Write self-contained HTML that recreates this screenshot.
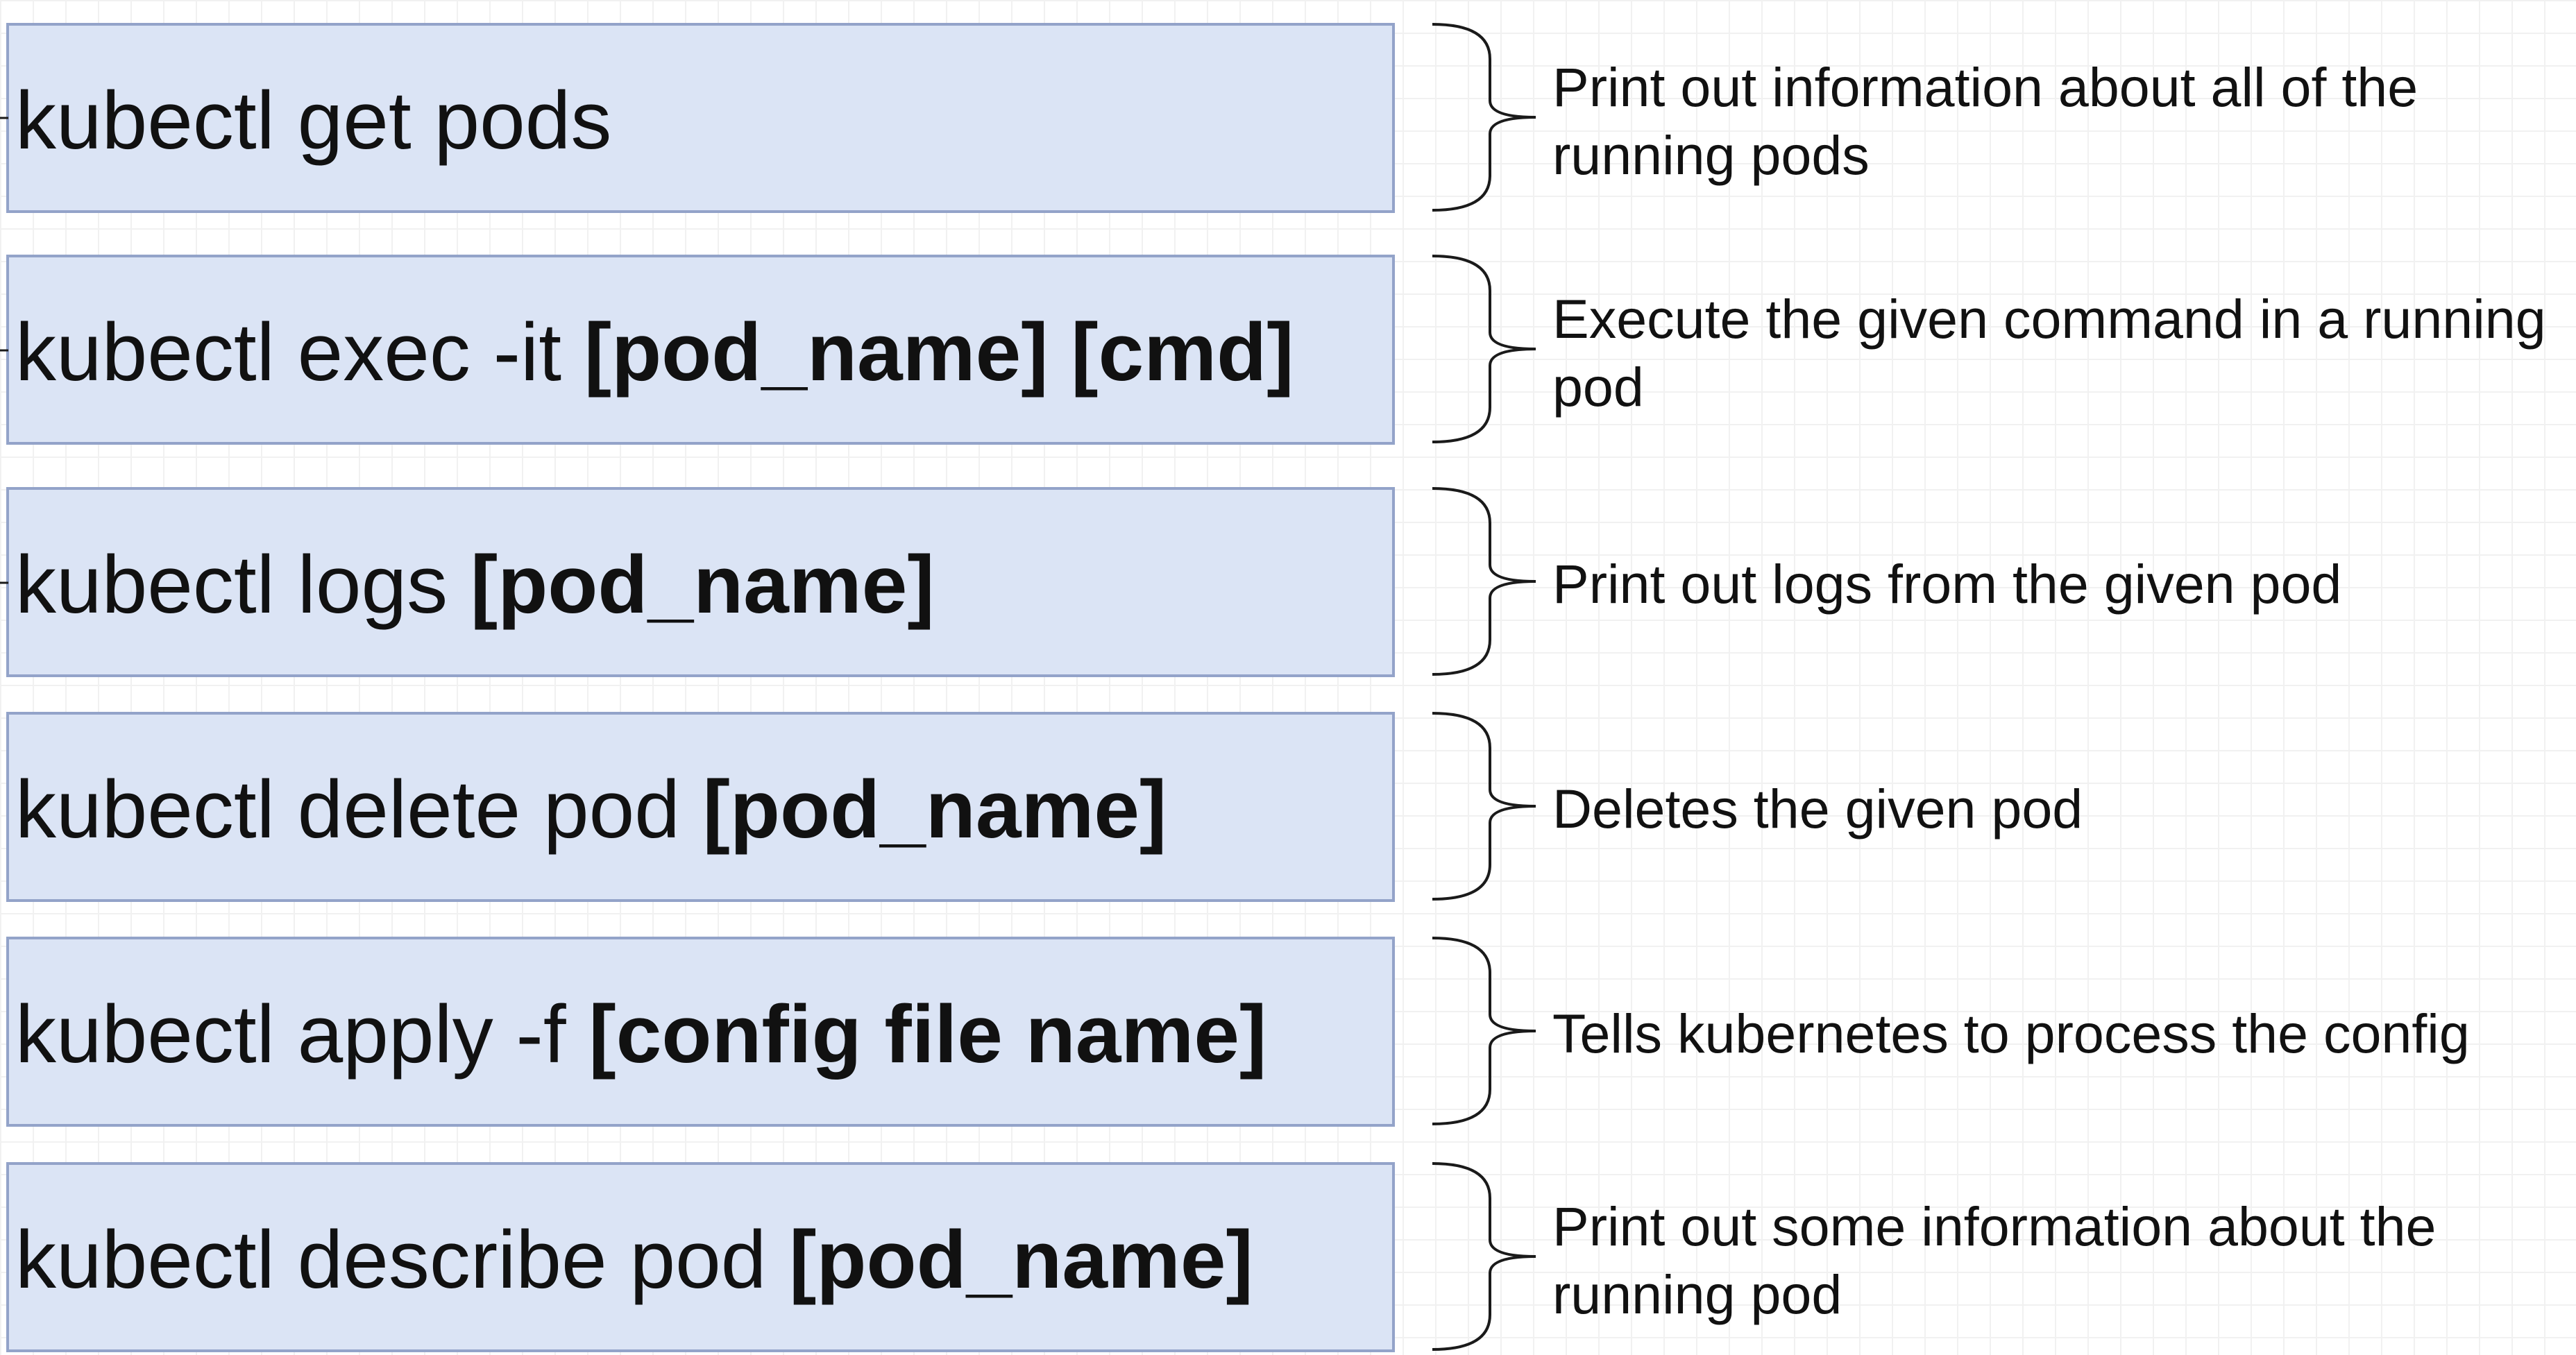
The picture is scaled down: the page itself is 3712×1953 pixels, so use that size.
<!DOCTYPE html>
<html><head><meta charset="utf-8"><style>
html,body{margin:0;padding:0;}
body{width:3712px;height:1952px;position:relative;overflow:hidden;background:#fff;
background-image:linear-gradient(#f1f1f1 2px,transparent 2px),linear-gradient(90deg,#f1f1f1 2px,transparent 2px);
background-size:47px 47px;font-family:"Liberation Sans",Arial,sans-serif;color:#111;}
.box{position:absolute;left:9px;width:1993px;height:266px;background:#dbe4f5;border:4px solid #93a3c9;
display:flex;align-items:center;box-sizing:content-box;}
.box span.t{font-size:118px;padding-left:9px;white-space:nowrap;padding-top:8px;}
.box b{font-weight:bold;}
.d{position:absolute;left:2237px;width:1475px;height:272px;display:flex;align-items:center;font-size:79px;line-height:98px;white-space:nowrap;}
svg{position:absolute;left:0;top:0;}
</style></head><body>
<div class="box" style="top:33px"><span class="t">kubectl get pods</span></div>
<div class="box" style="top:367px"><span class="t">kubectl exec -it <b>[pod_name] [cmd]</b></span></div>
<div class="box" style="top:702px"><span class="t">kubectl logs <b>[pod_name]</b></span></div>
<div class="box" style="top:1026px"><span class="t">kubectl delete pod <b>[pod_name]</b></span></div>
<div class="box" style="top:1350px"><span class="t">kubectl apply -f <b>[config file name]</b></span></div>
<div class="box" style="top:1675px"><span class="t">kubectl describe pod <b>[pod_name]</b></span></div>

<div class="d" style="top:39px"><div>Print out information about all of the<br>running pods</div></div>
<div class="d" style="top:373px"><div>Execute the given command in a running<br>pod</div></div>
<div class="d" style="top:706px"><div>Print out logs from the given pod</div></div>
<div class="d" style="top:1030px"><div>Deletes the given pod</div></div>
<div class="d" style="top:1354px"><div>Tells kubernetes to process the config</div></div>
<div class="d" style="top:1681px"><div>Print out some information about the<br>running pod</div></div>

<svg width="3712" height="1952" fill="none" stroke="#1a1a1a" stroke-width="4">
<path d="M2064,35 Q2147,35 2147,85 L2147,145 Q2147,169 2213,169 Q2147,169 2147,193 L2147,253 Q2147,303 2064,303"/>
<path d="M2064,369 Q2147,369 2147,419 L2147,479 Q2147,503 2213,503 Q2147,503 2147,527 L2147,587 Q2147,637 2064,637"/>
<path d="M2064,704 Q2147,704 2147,754 L2147,814 Q2147,838 2213,838 Q2147,838 2147,862 L2147,922 Q2147,972 2064,972"/>
<path d="M2064,1028 Q2147,1028 2147,1078 L2147,1138 Q2147,1162 2213,1162 Q2147,1162 2147,1186 L2147,1246 Q2147,1296 2064,1296"/>
<path d="M2064,1352 Q2147,1352 2147,1402 L2147,1462 Q2147,1486 2213,1486 Q2147,1486 2147,1510 L2147,1570 Q2147,1620 2064,1620"/>
<path d="M2064,1677 Q2147,1677 2147,1727 L2147,1787 Q2147,1811 2213,1811 Q2147,1811 2147,1835 L2147,1895 Q2147,1945 2064,1945"/>
<path d="M0,170 L12,170 M0,505 L12,505 M0,840 L12,840" stroke-width="3"/>
</svg>
</body></html>
